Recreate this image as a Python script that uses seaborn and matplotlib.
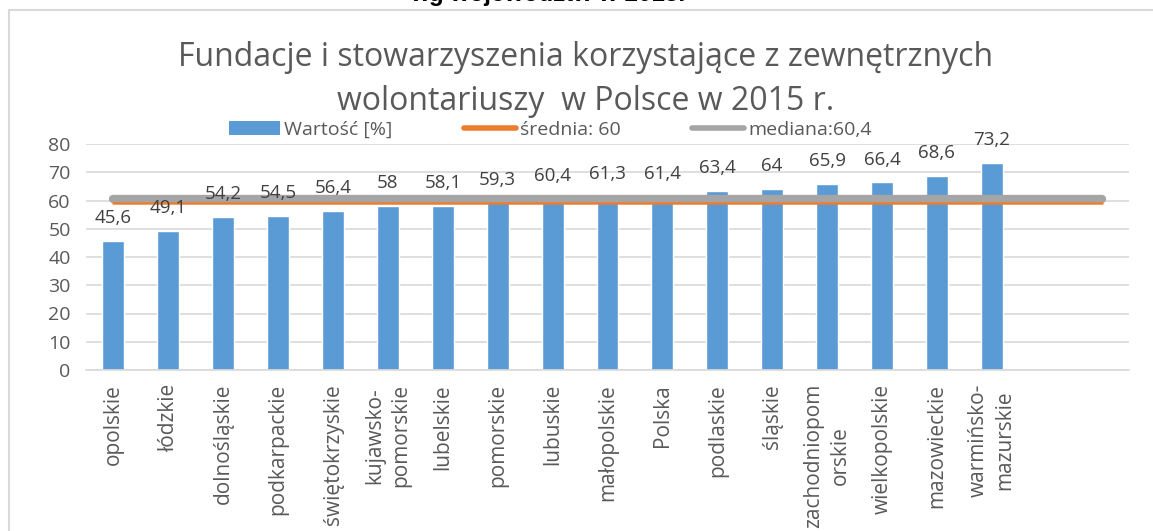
import matplotlib
matplotlib.use("Agg")
import matplotlib.pyplot as plt
import matplotlib.transforms as mtransforms
from matplotlib.lines import Line2D
from matplotlib.patches import Patch, Rectangle
import pandas as pd
import seaborn as sns

regions = ["opolskie", "łódzkie", "dolnośląskie", "podkarpackie", "świętokrzyskie",
           "kujawsko-\npomorskie", "lubelskie", "pomorskie", "lubuskie", "małopolskie",
           "Polska", "podlaskie", "śląskie", "zachodniopom\norskie", "wielkopolskie",
           "mazowieckie", "warmińsko-\nmazurskie"]
values = [45.6, 49.1, 54.2, 54.5, 56.4, 58, 58.1, 59.3, 60.4, 61.3,
          61.4, 63.4, 64, 65.9, 66.4, 68.6, 73.2]
# two empty category slots at the end, as in the spreadsheet
empty_slots = ["", ""]
mean_value = 60
median_value = 60.4
y_ticks = [0, 10, 20, 30, 40, 50, 60, 70, 80]

sns.set_style("white")
plt.rcParams["font.family"] = ["Open Sans", "DejaVu Sans"]

W, H = 1153, 531
fig = plt.figure(figsize=(W / 100, H / 100), dpi=100)
ax = fig.add_axes([86 / W, 1 - 370 / H, 1043 / W, 226 / H])

df = pd.DataFrame({"region": regions, "value": values})
sns.barplot(data=df, x="region", y="value", color="#5B9BD5", width=0.4,
            saturation=1, ax=ax, zorder=2)

n_all = len(regions) + len(empty_slots)
ax.set_xlim(-0.5, n_all - 0.5)
ax.set_ylim(0, 80)
ax.set_yticks(y_ticks)

# mean and median lines across all category slots
xs = [0, n_all - 1]
ax.plot(xs, [median_value] * 2, color="#A5A5A5", lw=6, solid_capstyle="round", zorder=3)
shift = mtransforms.offset_copy(ax.transData, fig=fig, y=-2.5, units="dots")
ax.plot(xs, [mean_value] * 2, color="#ED7D31", lw=1.8, solid_capstyle="round",
        zorder=4, transform=shift)

for i, v in enumerate(values):
    ax.annotate(f"{v:g}".replace(".", ","), (i, v), xytext=(0, 16.5),
                textcoords="offset points", ha="center", va="center",
                fontsize=13.5, color="#404040", zorder=5)

ax.yaxis.grid(True, color="#D9D9D9", lw=1.2)
ax.set_axisbelow(True)
for side in ["top", "right", "left"]:
    ax.spines[side].set_visible(False)
ax.spines["bottom"].set_color("#D9D9D9")
ax.spines["bottom"].set_linewidth(1.2)

ax.set_xlabel("")
ax.set_ylabel("")
ax.tick_params(axis="x", length=0, pad=10, labelsize=15, labelcolor="#595959")
ax.tick_params(axis="y", length=0, pad=11, labelsize=14, labelcolor="#595959")
ax.set_xticks(range(len(regions)))
ax.set_xticklabels(regions, rotation=90, va="top", ha="center",
                   multialignment="center", linespacing=1.35)

handles = [
    Patch(facecolor="#5B9BD5", edgecolor="none"),
    Line2D([], [], color="#ED7D31", lw=4, solid_capstyle="round"),
    Line2D([], [], color="#A5A5A5", lw=4, solid_capstyle="round"),
]
labels = ["Wartość [%]", "średnia: 60", "mediana:60,4"]
leg = fig.legend(handles, labels, loc="center", ncol=3, frameon=False,
                 bbox_to_anchor=(550 / W, 1 - 130 / H), handlelength=2.65,
                 handletextpad=0.2, columnspacing=3.7, prop={"size": 14})
for t in leg.get_texts():
    t.set_color("#595959")

fig.text(586 / W, 1 - 57 / H, "Fundacje i stowarzyszenia korzystające z zewnętrznych",
         ha="center", va="center", fontsize=23, color="#595959")
fig.text(586 / W, 1 - 102 / H, "wolontariuszy  w Polsce w 2015 r.",
         ha="center", va="center", fontsize=23, color="#595959")

# bold subtitle line cut by the top edge of the screenshot
fig.text(548 / W, 1 - 1 / H, "wg województw w 2015.", ha="center", va="baseline",
         fontsize=17.5, weight="bold", color="black", family=["Liberation Sans", "DejaVu Sans"])

fig.add_artist(Rectangle((9 / W, -0.2), 1.5, 1.2 - 10 / H, transform=fig.transFigure,
                         fill=False, edgecolor="#D9D9D9", lw=1.5))

fig.savefig("out.png", dpi=100)
